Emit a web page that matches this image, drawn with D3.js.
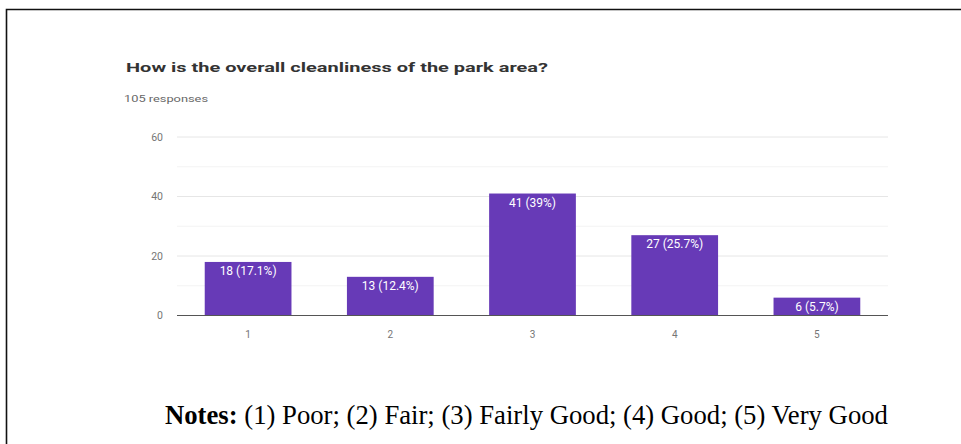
<!DOCTYPE html>
<html><head><meta charset="utf-8">
<script src="https://cdn.jsdelivr.net/npm/d3@7"></script>
<style>body{margin:0;background:#fff}svg{display:block}</style>
</head><body>
<svg id="c" width="961" height="444"></svg>
<script>
const categories = ["1","2","3","4","5"];
const counts = [18, 13, 41, 27, 6];
const percents = ["17.1%","12.4%","39%","25.7%","5.7%"];
const yTicks = [0, 20, 40, 60];
const minorTicks = [10, 30, 50];
const title = "How is the overall cleanliness of the park area?";
const subtitle = "105 responses";
const noteLabels = ["(1) Poor","(2) Fair","(3) Fairly Good","(4) Good","(5) Very Good"];

const svg = d3.select("#c");
// frame
svg.append("path").attr("d","M6.5,444 V9.5 H961").attr("fill","none").attr("stroke","#111").attr("stroke-width",1.6);

const x = d3.scaleBand().domain(categories).range([177, 888]).paddingInner(0.39).paddingOuter(0.195);
const y = d3.scaleLinear().domain([0, 60]).range([315.5, 137]);

svg.append("text").attr("x",126).attr("y",72).text(title)
  .attr("font-family","Roboto, sans-serif").attr("font-weight","bold").attr("font-size",12.5)
  .attr("fill","#333").attr("textLength",422).attr("lengthAdjust","spacingAndGlyphs");
svg.append("text").attr("x",124).attr("y",101.5).text(subtitle)
  .attr("font-family","Roboto, sans-serif").attr("font-size",9.5).attr("fill","#666")
  .attr("textLength",84).attr("lengthAdjust","spacingAndGlyphs");

// gridlines
svg.append("g").selectAll("line").data(minorTicks).join("line")
  .attr("x1",177).attr("x2",888).attr("y1",d=>y(d)).attr("y2",d=>y(d))
  .attr("stroke","#f3f3f3").attr("stroke-width",1);
svg.append("g").selectAll("line").data(yTicks.filter(d=>d>0)).join("line")
  .attr("x1",177).attr("x2",888).attr("y1",d=>y(d)).attr("y2",d=>y(d))
  .attr("stroke","#e6e6e6").attr("stroke-width",1);

// y axis labels
const yAxis = d3.axisLeft(y).tickValues(yTicks).tickSize(0).tickPadding(0);
const ga = svg.append("g").attr("transform","translate(163,0)").call(yAxis);
ga.select(".domain").remove();
ga.selectAll("text").attr("font-family","Roboto, sans-serif").attr("font-size",10.5).attr("fill","#757575");

// bars
svg.append("g").selectAll("rect").data(counts).join("rect")
  .attr("x",(d,i)=>x(categories[i])).attr("width",x.bandwidth())
  .attr("y",d=>y(d)).attr("height",d=>y(0)-y(d)).attr("fill","#673ab7");
svg.append("g").selectAll("text").data(counts).join("text")
  .attr("x",(d,i)=>x(categories[i])+x.bandwidth()/2).attr("y",d=>y(d)+13)
  .attr("text-anchor","middle").attr("font-family","Roboto, sans-serif").attr("font-size",12)
  .attr("fill","#fff").text((d,i)=>`${d} (${percents[i]})`);

// baseline
svg.append("line").attr("x1",177).attr("x2",888).attr("y1",y(0)).attr("y2",y(0))
  .attr("stroke","#555").attr("stroke-width",1);

// x axis
const xAxis = d3.axisBottom(x).tickSize(0).tickPadding(0);
const gx = svg.append("g").attr("transform","translate(0,331)").call(xAxis);
gx.select(".domain").remove();
gx.selectAll("text").attr("font-family","Roboto, sans-serif").attr("font-size",10).attr("fill","#757575");

// notes
const nt = svg.append("text").attr("x",165).attr("y",424)
  .attr("font-family","'Liberation Serif', 'Times New Roman', serif").attr("font-size",24).attr("fill","#000");
nt.append("tspan").attr("font-weight","bold").text("Notes:");
nt.append("tspan").text(" " + noteLabels.join("; "));
const w = nt.node().getComputedTextLength();
nt.attr("font-size", 24 * 723 / w);
</script>
</body></html>
